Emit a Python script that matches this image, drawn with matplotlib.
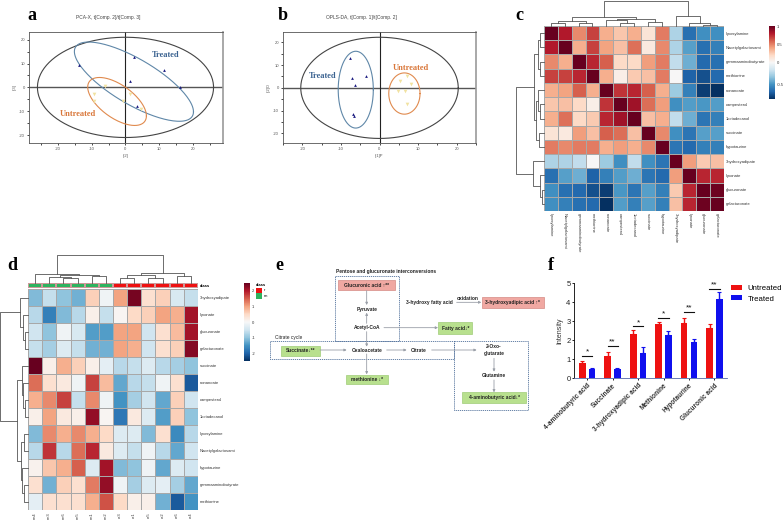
import numpy as np
import matplotlib
matplotlib.use("Agg")
import matplotlib.pyplot as plt
from matplotlib.colors import ListedColormap, TwoSlopeNorm
from matplotlib.patches import Rectangle

plt.rcParams['font.family'] = ['Liberation Sans', 'DejaVu Sans']
plt.rcParams['axes.unicode_minus'] = False

W, H = 784, 520

# a: PCA scores
a_treated_x = [-13.7, 2.4, 11.5, 1.2, 16.2, 3.3]
a_treated_y = [9.2, 12.7, 7.3, 2.8, 0.0, -7.8]
a_untreated_x = [-6.0, -9.4, -9.2, -0.6, 1.3, 4.5]
a_untreated_y = [0.6, -2.8, -5.7, -5.7, -2.9, -8.9]

# b: OPLS-DA scores
b_treated_x = [-7.7, -3.6, -7.0, -6.4, -6.8, -6.6]
b_treated_y = [13.1, 5.1, 4.2, 1.2, -11.5, -12.3]
b_untreated_x = [5.4, 7.2, 8.1, 4.9, 6.6, 7.1]
b_untreated_y = [3.1, 5.1, 1.6, -1.3, -1.3, -6.9]

# c: correlation heatmap
c_labels = ['lyxosylamine', 'Nacetylgalactosami', 'gammaaminobutyrate', 'methionine',
            'nonanoate', 'campesterol', '1octadecanol', 'succinate', 'hypotaurine',
            '3hydroxyadipate', 'lyxonate', 'glucuronate', 'galacturonate']
c_values = [
    [1.00, 0.80, 0.48, 0.68, 0.36, 0.28, 0.36, 0.14, 0.52, -0.25, -0.62, -0.50, -0.50],
    [0.80, 1.00, 0.36, 0.68, 0.40, 0.30, 0.55, 0.10, 0.48, -0.25, -0.45, -0.62, -0.56],
    [0.48, 0.36, 1.00, 0.76, 0.60, 0.20, 0.20, 0.42, 0.52, -0.20, -0.40, -0.64, -0.62],
    [0.68, 0.68, 0.76, 1.00, 0.36, 0.07, 0.26, 0.30, 0.52, 0.00, -0.66, -0.72, -0.64],
    [0.36, 0.40, 0.60, 0.36, 1.00, 0.72, 0.76, 0.60, 0.36, -0.30, -0.56, -0.78, -0.82],
    [0.28, 0.30, 0.20, 0.07, 0.72, 1.00, 0.85, 0.56, 0.42, -0.50, -0.46, -0.48, -0.46],
    [0.36, 0.55, 0.20, 0.26, 0.76, 0.85, 1.00, 0.30, 0.36, -0.20, -0.40, -0.60, -0.56],
    [0.14, 0.10, 0.42, 0.30, 0.60, 0.56, 0.30, 1.00, 0.48, -0.50, -0.60, -0.45, -0.45],
    [0.52, 0.48, 0.52, 0.52, 0.36, 0.42, 0.36, 0.48, 1.00, -0.60, -0.64, -0.56, -0.56],
    [-0.25, -0.25, -0.20, 0.00, -0.30, -0.50, -0.20, -0.50, -0.60, 1.00, 0.42, 0.26, 0.30],
    [-0.62, -0.45, -0.40, -0.66, -0.56, -0.46, -0.40, -0.60, -0.64, 0.42, 1.00, 0.76, 0.76],
    [-0.50, -0.62, -0.64, -0.72, -0.78, -0.48, -0.60, -0.45, -0.56, 0.26, 0.76, 1.00, 0.98],
    [-0.50, -0.56, -0.62, -0.64, -0.82, -0.46, -0.56, -0.45, -0.56, 0.30, 0.76, 0.98, 1.00],
]
# trees are (height, left, right), an int is a leaf
c_tree = (1.0, (.36, (.22, (.13, 0, 1), (.13, 2, 3)),
                (.27, (.23, 4, (.14, 5, 6)), (.17, 7, 8))),
          (.39, 9, (.14, 10, (.06, 11, 12))))

# d: clustered abundance heatmap
d_rows = ['3hydroxyadipate', 'lyxonate', 'glucuronate', 'galacturonate', 'succinate',
          'nonanoate', 'campesterol', '1octadecanol', 'lyxosylamine', 'Nacetylgalactosami',
          'hypotaurine', 'gammaaminobutyrate', 'methionine']
d_cols = ['cm4', 'cm3', 'cm6', 'cm5', 'cm1', 'cm2', 'cr3', 'cr1', 'cr5', 'cr2', 'cr6', 'cr4']
d_class = [1, 1, 1, 1, 1, 1, 0, 0, 0, 0, 0, 0]
d_values = [
    [-1.1, -0.6, -1.0, -1.2, 0.6, -0.1, 1.0, 2.4, 0.4, 0.6, -0.4, -0.6],
    [-0.7, -1.7, -1.1, -0.7, 0.15, -0.6, 0.05, 0.5, 0.6, 1.0, 0.9, 2.1],
    [-0.5, -1.0, -0.1, -0.4, -1.4, -1.4, 1.0, 1.0, -0.5, 0.4, 0.8, 2.1],
    [-0.6, -0.85, -0.35, -0.6, -1.2, -1.2, 1.0, 0.9, -0.5, 0.4, 0.6, 2.3],
    [2.5, 0.15, 0.9, 0.6, 0.15, -0.25, -0.7, -0.6, -0.35, -0.7, -0.85, -1.0],
    [1.4, 0.4, 0.25, -0.1, 1.7, 0.8, -1.3, -0.7, -0.6, -0.1, 0.4, -2.1],
    [0.9, 1.2, 1.7, -0.6, 1.2, -0.1, -1.5, -0.85, -0.5, -1.3, 0.6, -0.5],
    [0.15, 1.0, 0.25, 0.15, 2.2, 0.05, -1.8, 0.25, -0.35, -1.4, 0.6, -1.0],
    [-1.1, 1.2, 0.9, 1.2, 0.9, 0.5, -0.35, -0.35, -1.1, 0.4, -1.6, -0.7],
    [-0.7, 1.8, -0.7, 1.4, 1.9, 0.25, -0.35, -0.6, -0.1, -0.7, -1.3, -0.5],
    [0.1, 0.7, 0.9, 1.5, -0.35, 2.1, -1.1, -1.0, -0.1, -1.3, -0.35, -0.5],
    [0.4, -1.2, 0.6, 0.4, 1.3, 2.2, -0.1, -0.85, -0.35, -0.25, -0.85, -1.3],
    [-0.25, 0.4, 0.4, 0.4, 0.9, 1.6, 0.5, 0.15, 0.15, -1.2, -2.1, -1.5],
]
d_col_tree = (1.0, (.33, 0, (.29, (.20, 1, (.18, 2, 3)), (.24, 4, 5))),
              (.36, (.27, (.18, 6, 7), (.18, 8, 9)), (.26, 10, 11)))
d_row_tree = (1.0, (.28, 0, (.18, 1, (.10, 2, 3))),
              (.39, (.21, 4, (.18, 5, (.12, 6, 7))),
               (.24, (.13, 8, 9), (.21, 10, (.15, 11, 12)))))

# f: bars
f_names = ['4-aminobutyric acid', 'Succinate', '3-hydroxyadipic acid',
           'Methionine', 'Hypotaurine', 'Glucuronic acid']
f_untreated = [0.82, 1.17, 2.33, 2.85, 2.92, 2.63]
f_untreated_err = [0.10, 0.20, 0.22, 0.12, 0.27, 0.22]
f_treated = [0.50, 0.50, 1.35, 2.28, 1.90, 4.17]
f_treated_err = [0.05, 0.04, 0.30, 0.20, 0.15, 0.35]
f_stars = ['*', '**', '*', '*', '**', '**']
f_star_y = [1.20, 1.70, 2.73, 3.20, 3.50, 4.72]

fig = plt.figure(figsize=(W / 100, H / 100), dpi=100)


def px_axes(x0, y0, x1, y1, **kw):
    # axes from pixel box, y measured from the top
    return fig.add_axes([x0 / W, 1 - y1 / H, (x1 - x0) / W, (y1 - y0) / H], **kw)


def ellipse(ax, cx, cy, rx, ry, rho, color, lw=0.8):
    t = np.linspace(0, 2 * np.pi, 200)
    phi = np.arccos(rho)
    ax.plot(cx + rx * np.cos(t), cy + ry * np.cos(t + phi), color=color, lw=lw, zorder=3)


def score_plot(box, xlim, ylim, treated, untreated, ells):
    ax = px_axes(*box)
    ax.axhline(0, color='#555555', lw=1.0, zorder=2)
    ax.axvline(0, color='#222222', lw=0.8, zorder=2)
    for e in ells:
        ellipse(ax, *e)
    ax.scatter(treated[0], treated[1], s=4, marker='^', color='#1a1a80', lw=0, zorder=4)
    ax.scatter(untreated[0], untreated[1], s=7, marker='v', color='#f1e2a0', lw=0, zorder=4)
    ax.set_xlim(xlim)
    ax.set_ylim(ylim)
    ax.set_xticks(np.arange(-20, 21, 10))
    ax.set_yticks(np.arange(-20, 21, 10))
    ax.set_xticks(np.arange(-25, 26, 5), minor=True)
    ax.set_yticks(np.arange(-20, 21, 5), minor=True)
    ax.tick_params(which='both', labelsize=3, length=1.3, width=0.5, pad=1.5, labelcolor='#555555')
    for s in ax.spines.values():
        s.set_linewidth(0.6)
        s.set_color('#555555')
    ax.spines['right'].set_linewidth(1.2)
    ax.spines['right'].set_color('#999999')
    return ax


def draw_tree(ax, node, vertical):
    if isinstance(node, int):
        return node + 0.5, 0
    h, left, right = node
    p1, h1 = draw_tree(ax, left, vertical)
    p2, h2 = draw_tree(ax, right, vertical)
    if vertical:
        ax.plot([p1, p1, p2, p2], [h1, h, h, h2], color='#555555', lw=0.6, clip_on=False)
    else:
        ax.plot([h1, h, h, h2], [p1, p1, p2, p2], color='#555555', lw=0.6, clip_on=False)
    return (p1 + p2) / 2, h


def dendrograms(tree_top, top_box, tree_left, left_box, ncol, nrow):
    top = px_axes(*top_box)
    draw_tree(top, tree_top, True)
    top.set_xlim(0, ncol)
    top.set_ylim(0, 1)
    top.axis('off')
    side = px_axes(*left_box)
    draw_tree(side, tree_left, False)
    side.set_xlim(1, 0)
    side.set_ylim(nrow, 0)
    side.axis('off')


def heat(box, values, norm):
    ax = px_axes(*box)
    m = ax.pcolormesh(np.array(values), cmap='RdBu_r', norm=norm,
                      edgecolors='#a8a8a8', linewidth=0.5)
    ax.invert_yaxis()
    ax.tick_params(length=0, labelsize=3, pad=1.5, labelcolor='#333333')
    for s in ax.spines.values():
        s.set_visible(False)
    return ax, m


def colorbar(m, box, ticks, labels):
    cax = px_axes(*box)
    cb = fig.colorbar(m, cax=cax)
    cb.outline.set_visible(False)
    cb.set_ticks(ticks)
    cb.set_ticklabels(labels)
    cb.ax.tick_params(length=0, labelsize=3, pad=1.5, labelcolor='#333333')


# a
ax = score_plot((29, 32, 223, 143), (-28.6, 28.9), (-23.3, 23.2),
                (a_treated_x, a_treated_y), (a_untreated_x, a_untreated_y),
                [(0, 0, 26.1, 21, 0, '#444444'),
                 (2.5, 2.4, 17.65, 16.6, -0.76, '#5f87a8'),
                 (-2.5, -5.9, 8.7, 10.05, -0.6, '#e08a4e')])
ax.text(11.9, 13.5, 'Treated', color='#3a6290', family='Liberation Serif', weight='bold',
        fontsize=6, ha='center', va='center')
ax.text(-14.1, -11.3, 'Untreated', color='#d9773a', family='Liberation Serif', weight='bold',
        fontsize=6, ha='center', va='center')
ax.set_xlabel('t[2]', fontsize=3, color='#555555', labelpad=2)
ax.set_ylabel('t[3]', fontsize=3, color='#555555', labelpad=2)

# b
ax = score_plot((283, 32, 476, 143), (-22.4, 22.6), (-24.2, 24.5),
                (b_treated_x, b_treated_y), (b_untreated_x, b_untreated_y),
                [(0, 0, 20.4, 22.2, 0, '#444444'),
                 (-6.15, -0.8, 4.55, 16.85, 0, '#5f87a8'),
                 (6.45, -2.5, 4.05, 9.05, 0, '#e08a4e')])
ax.text(-14.8, 5.3, 'Treated', color='#3a6290', family='Liberation Serif', weight='bold',
        fontsize=6, ha='center', va='center')
ax.text(8.1, 8.8, 'Untreated', color='#d9773a', family='Liberation Serif', weight='bold',
        fontsize=6, ha='center', va='center')
ax.set_xlabel('t[1]P', fontsize=3, color='#555555', labelpad=2)
ax.set_ylabel('t[2]O', fontsize=3, color='#555555', labelpad=2)

# c
n = len(c_labels)
ax, m = heat((544, 26, 724, 211), c_values, TwoSlopeNorm(vmin=-0.82, vcenter=0, vmax=1))
ax.yaxis.tick_right()
ax.set_yticks(np.arange(n) + 0.5, c_labels)
ax.set_xticks(np.arange(n) + 0.5, c_labels, rotation=-90)
dendrograms(c_tree, (544, 1, 724, 26), c_tree, (516, 26, 544, 211), n, n)
colorbar(m, (769, 26, 774.5, 99), [1, 0.5, 0, -0.5], ['1', '0.5', '0', '-0.5'])

# d
ax, m = heat((28, 289, 198, 510), d_values, TwoSlopeNorm(vmin=-2.5, vcenter=0, vmax=2.5))
ax.yaxis.tick_right()
ax.set_yticks(np.arange(len(d_rows)) + 0.5, d_rows)
ax.set_xticks(np.arange(len(d_cols)) + 0.5, d_cols, rotation=90)
cl = px_axes(28, 283, 198, 288)
cl.pcolormesh(np.array([d_class]), cmap=ListedColormap(['#ee1111', '#2fb35f']),
              edgecolors='#cc9999', linewidth=0.2)
cl.axis('off')
dendrograms(d_col_tree, (28, 255, 198, 283), d_row_tree, (0, 289, 28, 510),
            len(d_cols), len(d_rows))
colorbar(m, (244, 283, 249.5, 361), [2, 1, 0, -1, -2], ['2', '1', '0', '-1', '-2'])

# everything placed by hand goes on one overlay in pixel coordinates
ov = fig.add_axes([0, 0, 1, 1], zorder=10)
ov.set_xlim(0, W)
ov.set_ylim(H, 0)
ov.axis('off')
ov.patch.set_alpha(0)

for letter, x, y in [('a', 32, 16), ('b', 283, 15), ('c', 519, 15),
                     ('d', 12.5, 266), ('e', 279, 265), ('f', 551, 266)]:
    ov.text(x, y, letter, family='Liberation Serif', weight='bold', fontsize=13,
            ha='center', va='center', color='black')
ov.text(108, 17, 'PCA-X, t[Comp. 2]/t[Comp. 3]', fontsize=3.5, color='#444444', ha='center', va='center')
ov.text(361, 17, 'OPLS-DA, t[Comp. 1]/t[Comp. 2]', fontsize=3.5, color='#444444', ha='center', va='center')

ov.text(200, 286, 'class', fontsize=3, weight='bold', va='center')
ov.text(256, 284.5, 'class', fontsize=3, weight='bold', va='center')
ov.add_patch(Rectangle((256, 287.7), 6, 5, color='#ee1111', lw=0))
ov.add_patch(Rectangle((256, 293.3), 6, 5.3, color='#2fb35f', lw=0))
ov.text(263.5, 290.2, 'r', fontsize=3, va='center')
ov.text(263.5, 296, 'm', fontsize=3, va='center')


# e
def ex(z):
    return 265 + z / 3


def ey(z):
    return 250 + z / 3


def node(zx, zy, s, weight='bold', size=3.5):
    ov.text(ex(zx), ey(zy), s, fontsize=size, weight=weight, color='#222222',
            ha='center', va='center', linespacing=1.25)


def colored_box(x0, y0, x1, y1, s, fill, edge):
    ov.add_patch(Rectangle((ex(x0), ey(y0)), (x1 - x0) / 3, (y1 - y0) / 3,
                           facecolor=fill, edgecolor=edge, lw=0.5))
    node((x0 + x1) / 2, (y0 + y1) / 2, s)


def arrow(x0, y0, x1, y1):
    ov.annotate('', xy=(ex(x1), ey(y1)), xytext=(ex(x0), ey(y0)),
                arrowprops=dict(arrowstyle='-|>,head_width=0.07,head_length=0.14',
                                color='#9a9fa8', lw=0.6, shrinkA=0, shrinkB=0))


def dashed_box(x0, y0, x1, y1):
    ov.add_patch(Rectangle((ex(x0), ey(y0)), (x1 - x0) / 3, (y1 - y0) / 3, fill=False,
                           edgecolor='#4f6f9a', lw=0.6, ls=(0, (1.5, 1))))


dashed_box(211, 78, 401, 273)
dashed_box(14, 272, 568, 328)
dashed_box(568, 272, 788, 481)
red_fill, red_edge = '#f0a8a2', '#d58a84'
green_fill, green_edge = '#b8e08e', '#a0cc78'
colored_box(220, 91, 389, 120, 'Glucuronic acid ↑**', red_fill, red_edge)
colored_box(650, 140, 837, 175, '3-hydroxyadipic acid ↑*', red_fill, red_edge)
colored_box(520, 217, 622, 252, 'Fatty acid↓*', green_fill, green_edge)
colored_box(47, 287, 164, 318, 'Succinate↓**', green_fill, green_edge)
colored_box(244, 374, 370, 403, 'methionine ↓*', green_fill, green_edge)
colored_box(592, 427, 783, 458, '4-aminobutyric acid↓*', green_fill, green_edge)
node(362, 64, 'Pentose and glucuronate interconversions')
node(70, 261, 'Citrate cycle', weight='normal')
node(305, 177, 'Pyruvate')
node(305, 233, 'Acetyl-CoA')
node(305, 300, 'Oxaloacetate')
node(460, 300, 'Citrate')
node(687, 300, '2-Oxo-\nglutarate')
node(687, 377, 'Glutamine')
node(493, 158, '3-hydroxy fatty acid')
node(608, 147, 'oxidation')
arrow(305, 122, 305, 165)
arrow(305, 220, 305, 188)
arrow(305, 245, 305, 290)
arrow(305, 312, 305, 373)
arrow(357, 233, 519, 233)
arrow(575, 157, 649, 157)
arrow(165, 300, 245, 300)
arrow(365, 300, 425, 300)
arrow(500, 300, 635, 300)
arrow(687, 325, 687, 365)
arrow(687, 390, 687, 427)

# f
ax = px_axes(574.3, 283.3, 726.7, 378.3)
pos = np.arange(len(f_names))
zero = [0] * len(f_names)
ax.bar(pos - 0.19, f_untreated, 0.26, color='#ee1111', label='Untreated')
ax.bar(pos + 0.19, f_treated, 0.26, color='#1010ee', label='Treated')
ax.errorbar(pos - 0.19, f_untreated, yerr=[zero, f_untreated_err], fmt='none',
            ecolor='#ee1111', elinewidth=1, capsize=1.5, capthick=0.8)
ax.errorbar(pos + 0.19, f_treated, yerr=[zero, f_treated_err], fmt='none',
            ecolor='#1010ee', elinewidth=1, capsize=1.5, capthick=0.8)
for i, s in enumerate(f_stars):
    ax.plot([i - 0.2, i + 0.2], [f_star_y[i]] * 2, color='#111111', lw=0.8)
    ax.text(i, f_star_y[i] + 0.02, s, fontsize=6, ha='center', va='bottom', color='#111111')
ax.set_xlim(-0.504, 5.48)
ax.set_ylim(0, 5)
ax.set_xticks(pos)
ax.set_xticklabels(f_names, rotation=45, ha='right', rotation_mode='anchor',
                   fontsize=4.7, weight='bold', color='#333333')
ax.set_yticks(range(6))
ax.tick_params(axis='y', labelsize=5.5, length=1.5, width=0.6, pad=1.2, labelcolor='#222222')
ax.tick_params(axis='x', length=1.5, width=0.6, pad=1.2)
ax.set_ylabel('Intensity', fontsize=5, color='#333333', labelpad=2)
ax.spines['top'].set_visible(False)
ax.spines['right'].set_visible(False)
ax.spines['left'].set_linewidth(0.6)
ax.spines['bottom'].set_linewidth(0.6)
ax.spines['bottom'].set_color('#5566aa')
h, l = ax.get_legend_handles_labels()
fig.legend(h, l, loc='upper left', bbox_to_anchor=(731 / W, 1 - 285 / H), frameon=False,
           fontsize=5.6, handlelength=1.41, handleheight=0.6, handletextpad=0.75,
           labelspacing=0.4, borderpad=0, borderaxespad=0)

fig.savefig('out.png', dpi=100)
